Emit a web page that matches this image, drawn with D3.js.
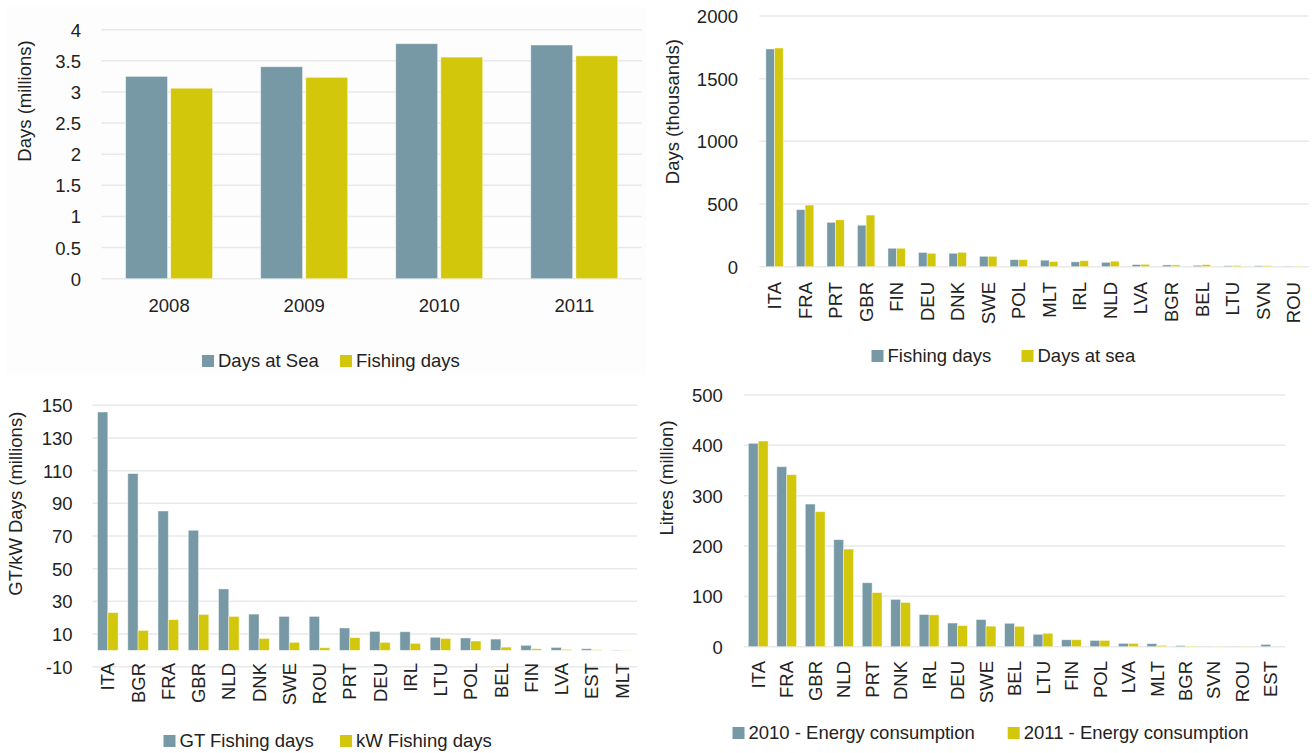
<!DOCTYPE html>
<html>
<head>
<meta charset="utf-8">
<script src="https://cdn.jsdelivr.net/npm/d3@7"></script>
<style>
  html, body { margin: 0; padding: 0; background: #ffffff; }
  svg { display: block; }
  text { font-family: "Liberation Sans", Arial, sans-serif; fill: #222222; }
</style>
</head>
<body>
<svg id="chart" width="1314" height="753"></svg>
<script>
// ---- Data -------------------------------------------------------------
// Fleet effort per year (millions of days)
const years = ["2008", "2009", "2010", "2011"];
const daysAtSeaMillions = [3.25, 3.405, 3.775, 3.754];
const fishingDaysMillions = [3.06, 3.235, 3.56, 3.58];
const effortTicks = [0, 0.5, 1, 1.5, 2, 2.5, 3, 3.5, 4];

// Effort by member state (thousands of days)
const effortCountries = ["ITA", "FRA", "PRT", "GBR", "FIN", "DEU", "DNK", "SWE", "POL",
                         "MLT", "IRL", "NLD", "LVA", "BGR", "BEL", "LTU", "SVN", "ROU"];
const fishingDaysThousands = [1737, 455, 354, 331, 147, 114, 107, 83, 56, 52, 39, 35, 17, 14, 11, 8, 8, 4];
const daysAtSeaThousands   = [1745, 492, 374, 412, 147, 107, 115, 83, 56, 41, 48, 44, 19, 14, 16, 10, 8, 4];
const countryEffortTicks = [0, 500, 1000, 1500, 2000];

// Capacity-weighted fishing days by member state (millions)
const capacityCountries = ["ITA", "BGR", "FRA", "GBR", "NLD", "DNK", "SWE", "ROU", "PRT",
                           "DEU", "IRL", "LTU", "POL", "BEL", "FIN", "LVA", "EST", "MLT"];
const gtFishingDays = [145.9, 108.2, 85.3, 73.5, 37.6, 22.2, 20.8, 20.8, 13.7, 11.6, 11.4, 8.0, 7.6, 6.9, 3.1, 1.8, 1.0, 0.2];
const kwFishingDays = [23.1, 12.2, 18.8, 22.0, 20.8, 7.3, 4.9, 1.6, 7.8, 4.9, 4.3, 7.3, 5.7, 2.0, 1.0, 0.6, 0.4, 0.1];
const capacityTicks = [-10, 10, 30, 50, 70, 90, 110, 130, 150];

// Fuel use by member state (million litres)
const energyCountries = ["ITA", "FRA", "GBR", "NLD", "PRT", "DNK", "IRL", "DEU", "SWE", "BEL",
                         "LTU", "FIN", "POL", "LVA", "MLT", "BGR", "SVN", "ROU", "EST"];
const energy2010 = [404, 357.6, 283.4, 212.6, 127, 94, 64, 47, 54, 46.5, 24.7, 13.8, 12.5, 6.6, 6, 2.2, 0.7, 0.7, 4.6];
const energy2011 = [408.6, 341.7, 268.2, 194, 107.5, 88, 63.3, 42, 40.8, 40.5, 26.7, 13.8, 12.5, 6.6, 2.6, 1.3, 0.7, 0.7, 0];
const energyTicks = [0, 100, 200, 300, 400, 500];

// ---- Styling ----------------------------------------------------------
const TEAL = "#7799a5";
const OLIVE = "#d3c70c";
const GRID = "#e9e9e9";
const FONT = 18.5;

const svg = d3.select("#chart");

// very faint card behind the yearly chart
svg.append("rect")
  .attr("x", 7).attr("y", 7).attr("width", 639).attr("height", 368)
  .attr("fill", "#fdfdfd");

// plain number labels with an ASCII hyphen for negatives
const plain = d => String(d);

function drawPanel(cfg) {
  const g = svg.append("g");

  const x = d3.scaleBand()
    .domain(cfg.categories)
    .range([cfg.x0, cfg.x1])
    .paddingInner(cfg.pad)
    .paddingOuter(cfg.pad / 2);

  const xs = d3.scaleBand()
    .domain(cfg.series.map(s => s.name))
    .range([0, x.bandwidth()])
    .paddingInner(cfg.innerPad || 0);

  const y = d3.scaleLinear()
    .domain([cfg.ticks[0], cfg.ticks[cfg.ticks.length - 1]])
    .range([cfg.yBottom, cfg.yTop]);

  // horizontal gridlines
  g.append("g").selectAll("line")
    .data(cfg.ticks)
    .join("line")
    .attr("x1", cfg.x0).attr("x2", cfg.x1)
    .attr("y1", d => y(d)).attr("y2", d => y(d))
    .attr("stroke", GRID).attr("stroke-width", 1.5);

  // y axis labels
  const yAxis = g.append("g")
    .attr("transform", `translate(${cfg.tickRight},0)`)
    .call(d3.axisLeft(y).tickValues(cfg.ticks).tickFormat(plain).tickSize(0).tickPadding(0));
  yAxis.select(".domain").remove();
  yAxis.selectAll("text")
    .attr("font-size", FONT)
    .attr("font-family", null)
    .attr("dy", "0.35em");

  // bars
  const base = y(Math.max(0, cfg.ticks[0]));
  cfg.series.forEach(s => {
    g.append("g").selectAll("rect")
      .data(cfg.categories.map((c, i) => ({ c, v: s.values[i] })))
      .join("rect")
      .attr("x", d => x(d.c) + xs(s.name))
      .attr("width", xs.bandwidth())
      .attr("y", d => y(d.v))
      .attr("height", d => Math.max(0, base - y(d.v)))
      .attr("fill", s.color)
      .attr("stroke", "#ffffff")
      .attr("stroke-opacity", 0.55)
      .attr("stroke-width", 0.8);
  });

  // category labels
  const xAxis = g.append("g")
    .attr("transform", `translate(0,${cfg.labelY})`)
    .call(d3.axisBottom(x).tickSize(0).tickPadding(0));
  xAxis.select(".domain").remove();
  const xt = xAxis.selectAll("text")
    .attr("font-size", FONT)
    .attr("font-family", null);
  if (cfg.rotate) {
    xt.attr("transform", "rotate(-90)")
      .attr("text-anchor", "end")
      .attr("x", 0).attr("y", 0)
      .attr("dy", "0.36em");
  } else {
    xt.attr("y", 0).attr("dy", "0.35em");
  }

  // y axis title
  g.append("text")
    .attr("transform", `translate(${cfg.titleX},${cfg.titleY}) rotate(-90)`)
    .attr("text-anchor", "middle")
    .attr("dy", "0.35em")
    .attr("font-size", FONT)
    .text(cfg.yTitle);

  // legend
  cfg.series.forEach(s => {
    g.append("rect")
      .attr("x", s.legendX).attr("y", cfg.legendY - 6)
      .attr("width", 12).attr("height", 12)
      .attr("fill", s.color);
    g.append("text")
      .attr("x", s.legendX + 16).attr("y", cfg.legendY)
      .attr("dy", "0.35em")
      .attr("font-size", FONT)
      .text(s.name);
  });
}

drawPanel({
  categories: years,
  series: [
    { name: "Days at Sea", values: daysAtSeaMillions, color: TEAL, legendX: 202 },
    { name: "Fishing days", values: fishingDaysMillions, color: OLIVE, legendX: 340 }
  ],
  ticks: effortTicks,
  x0: 101.6, x1: 641.8, yTop: 29.7, yBottom: 278.7,
  pad: 0.356, innerPad: 0.07,
  tickRight: 81, labelY: 306, rotate: false,
  yTitle: "Days (millions)", titleX: 25, titleY: 101,
  legendY: 361
});

drawPanel({
  categories: effortCountries,
  series: [
    { name: "Fishing days", values: fishingDaysThousands, color: TEAL, legendX: 871.5 },
    { name: "Days at sea", values: daysAtSeaThousands, color: OLIVE, legendX: 1021.5 }
  ],
  ticks: countryEffortTicks,
  x0: 759.3, x1: 1308.7, yTop: 16, yBottom: 266.7,
  pad: 0.43,
  tickRight: 738, labelY: 282, rotate: true,
  yTitle: "Days (thousands)", titleX: 673, titleY: 111.7,
  legendY: 356
});

drawPanel({
  categories: capacityCountries,
  series: [
    { name: "GT Fishing days", values: gtFishingDays, color: TEAL, legendX: 163.5 },
    { name: "kW Fishing days", values: kwFishingDays, color: OLIVE, legendX: 340 }
  ],
  ticks: capacityTicks,
  x0: 92.7, x1: 637, yTop: 405.3, yBottom: 666.7,
  pad: 0.32,
  tickRight: 72.5, labelY: 663, rotate: true,
  yTitle: "GT/kW Days (millions)", titleX: 16, titleY: 503.7,
  legendY: 741
});

drawPanel({
  categories: energyCountries,
  series: [
    { name: "2010 - Energy consumption", values: energy2010, color: TEAL, legendX: 732.5 },
    { name: "2011 - Energy consumption", values: energy2011, color: OLIVE, legendX: 1007.7 }
  ],
  ticks: energyTicks,
  x0: 744, x1: 1285, yTop: 395, yBottom: 646.7,
  pad: 0.305,
  tickRight: 722.8, labelY: 661, rotate: true,
  yTitle: "Litres (million)", titleX: 666.5, titleY: 478,
  legendY: 733
});
</script>
</body>
</html>
